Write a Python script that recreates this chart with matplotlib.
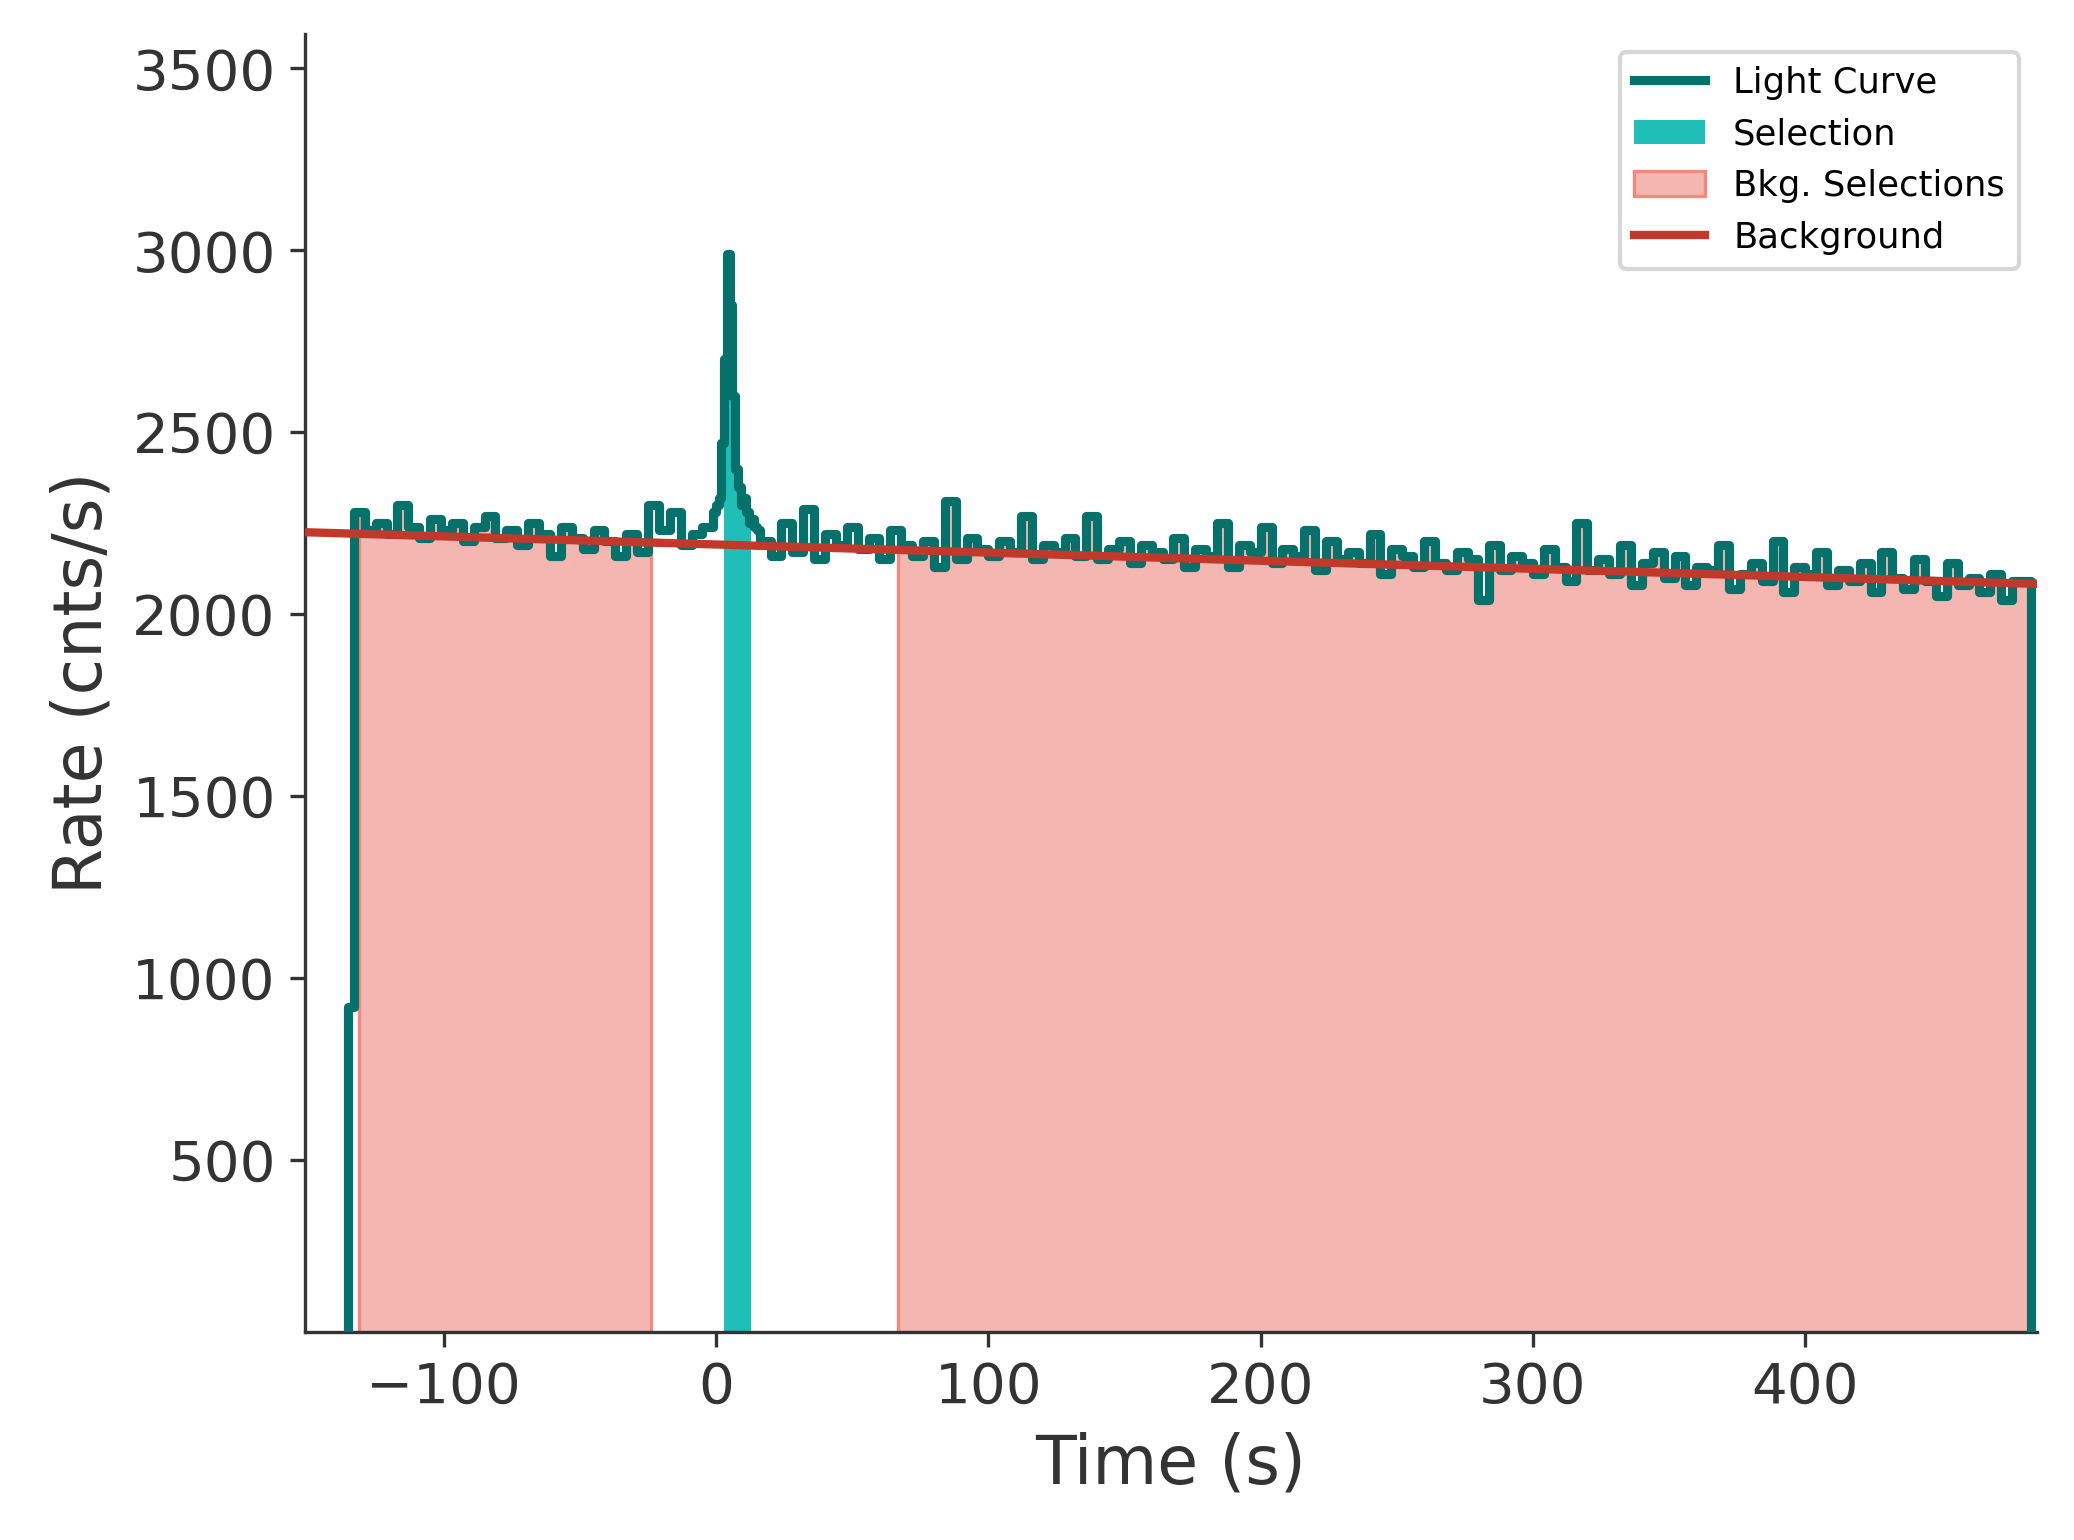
import numpy as np
import matplotlib
matplotlib.use("Agg")
import matplotlib.pyplot as plt

# light curve: bin start times (s) and rates
pre_vals = [920, 2280, 2230, 2250, 2220, 2300, 2240, 2210, 2260, 2230, 2250, 2200, 2240, 2270, 2210,
            2230, 2190, 2250, 2220, 2160, 2240, 2210, 2180, 2230, 2200, 2160, 2220, 2170, 2300, 2230,
            2280, 2190, 2220, 2240]
peak_vals = [2280, 2300, 2320, 2470, 2700, 2990, 2850, 2600, 2400, 2350, 2300, 2320, 2280, 2250,
             2260, 2240, 2230]
post_vals = [2200, 2160, 2250, 2170, 2290, 2150, 2220, 2190, 2240, 2180, 2210, 2150, 2230, 2190,
             2160, 2200, 2130, 2310, 2150, 2210, 2180, 2160, 2200, 2170, 2270, 2150, 2190, 2170,
             2210, 2160, 2270, 2150, 2180, 2200, 2140, 2190, 2170, 2150, 2210, 2130, 2180, 2160,
             2250, 2130, 2190, 2170, 2240, 2140, 2180, 2160, 2230, 2120, 2200, 2150, 2170, 2140,
             2220, 2110, 2180, 2160, 2130, 2200, 2140, 2120, 2170, 2150, 2040, 2190, 2120, 2160,
             2140, 2110, 2180, 2130, 2090, 2250, 2120, 2150, 2110, 2190, 2080, 2140, 2170, 2100,
             2160, 2080, 2130, 2120, 2190, 2070, 2110, 2140, 2090, 2200, 2060, 2130, 2110, 2170,
             2080, 2120, 2090, 2140, 2060, 2170, 2100, 2070, 2150, 2090, 2050, 2140, 2080, 2100,
             2060, 2110, 2040, 2090]
pre_times = [-135] + list(np.arange(-133, -1, 4))
peak_times = list(np.arange(-1, 16, 1))
post_times = list(np.arange(16, 480, 4))

times = np.array(pre_times + peak_times + post_times, dtype=float)
rates = np.array(pre_vals + peak_vals + post_vals, dtype=float)
n = min(len(times), len(rates))
times, rates = times[:n], rates[:n]
t_end = 483.0

bkg_intervals = [(-131, -24), (67, 483)]
src_interval = (3, 13)
bkg_line_x = [-151, 485]
bkg_line_y = [2225, 2083]

fig = plt.figure(figsize=(2074 / 300, 1540 / 300), dpi=300)
ax = fig.add_axes([0.147, 0.135, 0.835, 0.843])

tt = np.append(times, t_end)
rr = np.append(rates, rates[-1])


def seg(lo, hi):
    m = (tt > lo) & (tt < hi)
    idx = np.searchsorted(tt, lo, side="right") - 1
    x = np.concatenate([[lo], tt[m], [hi]])
    y = np.concatenate([[rr[max(idx, 0)]], rr[m], [rr[m][-1] if m.any() else rr[idx]]])
    return x, y


for i, (lo, hi) in enumerate(bkg_intervals):
    x, y = seg(lo, hi)
    ax.fill_between(x, 0, y, step="post", color="#f4b6b0", edgecolor="#f08a80",
                    linewidth=0.8, zorder=1, label="Bkg. Selections" if i == 0 else None)
x, y = seg(*src_interval)
ax.fill_between(x, 0, y, step="post", color="#1fbfb8", linewidth=0, zorder=2, label="Selection")

ax.step(np.concatenate([[times[0]], tt, [t_end]]), np.concatenate([[0], rr, [0]]),
        where="post", color="#06706a", lw=2.2, zorder=3, label="Light Curve")
ax.plot(bkg_line_x, bkg_line_y, color="#c0392b", lw=2.0, zorder=4, label="Background")

ax.set_xlim(-151, 485)
ax.set_ylim(26, 3595)
ax.set_yticks([500, 1000, 1500, 2000, 2500, 3000, 3500])
ax.set_xticks([-100, 0, 100, 200, 300, 400])
for s in ["top", "right"]:
    ax.spines[s].set_visible(False)
for s in ["left", "bottom"]:
    ax.spines[s].set_color("#333333")
ax.tick_params(colors="#333333", labelsize=13.5, labelcolor="#333333")
ax.set_xlabel("Time (s)", fontsize=16, color="#333333")
ax.set_ylabel("Rate (cnts/s)", fontsize=16, color="#333333")

h, l = ax.get_legend_handles_labels()
order = ["Light Curve", "Selection", "Bkg. Selections", "Background"]
hd = dict(zip(l, h))
ax.legend([hd[k] for k in order], order, loc="upper right", fontsize=8.5)

fig.savefig("out.png", dpi=300)
